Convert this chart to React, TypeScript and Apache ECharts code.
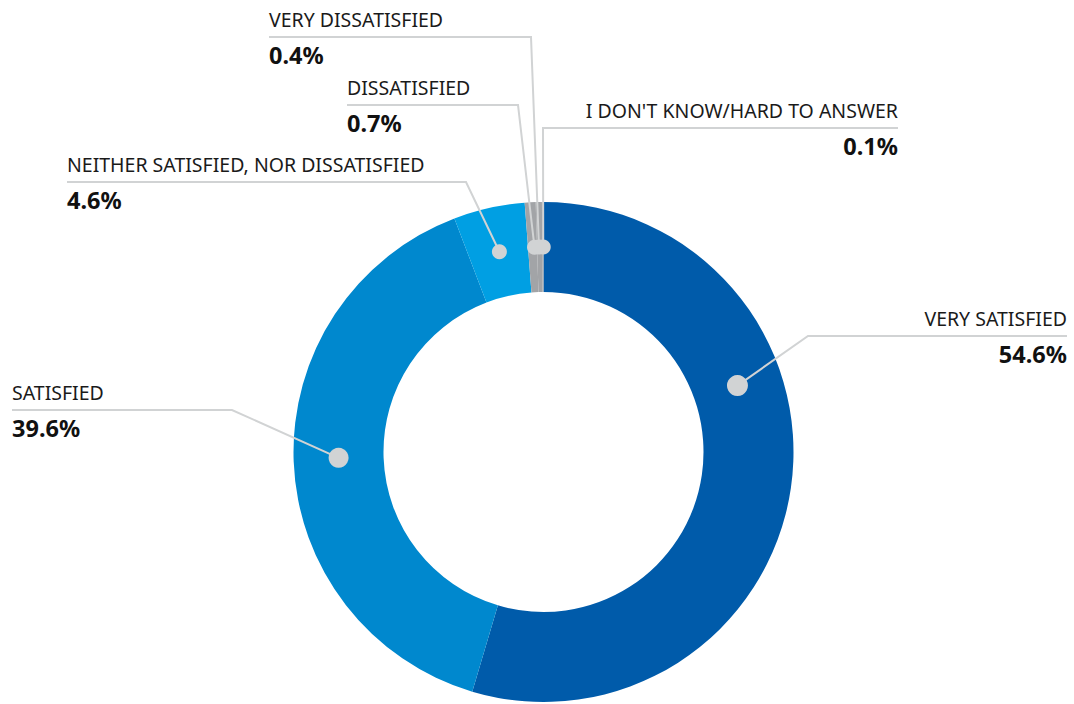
import React, { useEffect, useRef } from "react";
import * as echarts from "echarts";

const categories = [
  "VERY SATISFIED",
  "SATISFIED",
  "NEITHER SATISFIED, NOR DISSATISFIED",
  "DISSATISFIED",
  "VERY DISSATISFIED",
  "I DON'T KNOW/HARD TO ANSWER",
];
const shares = [54.6, 39.6, 4.6, 0.7, 0.4, 0.1];
const sliceColors = ["#005BAA", "#0088CE", "#009FE3", "#A2A4A7", "#A2A4A7", "#A2A4A7"];

// chart geometry (pixels)
const CX = 543.5;
const CY = 452;
const R0 = 160;
const R1 = 250;
const RM = (R0 + R1) / 2;

// where each label line is anchored around the ring (percent of the circle, clockwise from top)
const anchorPct = [19.75, 74.55, 96.55, 99.3, 99.65, 99.98];
const dotSizes = [21, 20, 15, 15, 15, 15];

// label anchor (line end), elbow x, alignment
const labelSpots = [
  { x: 1067, y: 336, elbowX: 808, align: "right" },
  { x: 12, y: 410, elbowX: 232, align: "left" },
  { x: 67, y: 182, elbowX: 466, align: "left" },
  { x: 347, y: 105, elbowX: 518, align: "left" },
  { x: 269, y: 37, elbowX: 531, align: "left" },
  { x: 898, y: 128, elbowX: 543, align: "right" },
];

const FONT = "'Noto Sans', 'Open Sans', sans-serif";
const LINE_COLOR = "#D1D3D4";

function anchorPoint(i: number): [number, number] {
  const theta = (anchorPct[i] / 100) * 2 * Math.PI;
  return [CX + RM * Math.sin(theta), CY - RM * Math.cos(theta)];
}

export default function App() {
  const ref = useRef<HTMLDivElement>(null);
  useEffect(() => {
    document.body.style.margin = "0";
    const chart = echarts.init(ref.current!, undefined, { renderer: "svg" });
    chart.setOption({
      animation: false,
      backgroundColor: "#ffffff",
      polar: { center: [CX, CY], radius: [0, R1] },
      angleAxis: {
        type: "value",
        min: 0,
        max: 100,
        startAngle: 90,
        clockwise: true,
        show: false,
      },
      radiusAxis: { type: "value", min: 0, max: R1, show: false },
      series: [
        {
          type: "pie",
          z: 1,
          center: [CX, CY],
          radius: [R0, R1],
          startAngle: 90,
          clockwise: true,
          silent: true,
          data: categories.map((name, i) => ({
            name,
            value: shares[i],
            itemStyle: { color: sliceColors[i] },
          })),
          label: { show: false },
          labelLine: { show: false },
        },
        {
          type: "pie",
          z: 2,
          center: [CX, CY],
          radius: [R0, R1],
          startAngle: 90,
          clockwise: true,
          avoidLabelOverlap: false,
          silent: true,
          data: categories.map((name, i) => ({ name, value: shares[i] })),
          itemStyle: { color: "rgba(0,0,0,0)" },
          label: {
            show: true,
            position: "outside",
            formatter: "{n|{b}}\n{v|{c}%}",
            rich: {
              n: {
                fontFamily: FONT,
                fontSize: 19.5,
                color: "#1A1A1A",
                lineHeight: 36,
              },
              v: {
                fontFamily: FONT,
                fontSize: 23.5,
                fontWeight: "bold",
                color: "#111111",
                lineHeight: 36,
              },
            },
          },
          labelLine: {
            show: true,
            smooth: false,
            lineStyle: { color: LINE_COLOR, width: 2 },
          },
          labelLayout: (params: any) => {
            const s = labelSpots[params.dataIndex];
            const d = anchorPoint(params.dataIndex);
            return {
              x: s.x,
              y: s.y,
              align: s.align,
              verticalAlign: "middle",
              labelLinePoints: [d, [s.elbowX, s.y], [s.x, s.y]],
            };
          },
        },
        {
          type: "scatter",
          coordinateSystem: "polar",
          z: 3,
          silent: true,
          itemStyle: { color: LINE_COLOR, opacity: 1 },
          data: categories.map((name, i) => ({
            name,
            value: [RM, anchorPct[i]],
            symbolSize: dotSizes[i],
          })),
        },
      ],
    });
    return () => chart.dispose();
  }, []);
  return <div ref={ref} style={{ width: 1074, height: 704 }} />;
}
